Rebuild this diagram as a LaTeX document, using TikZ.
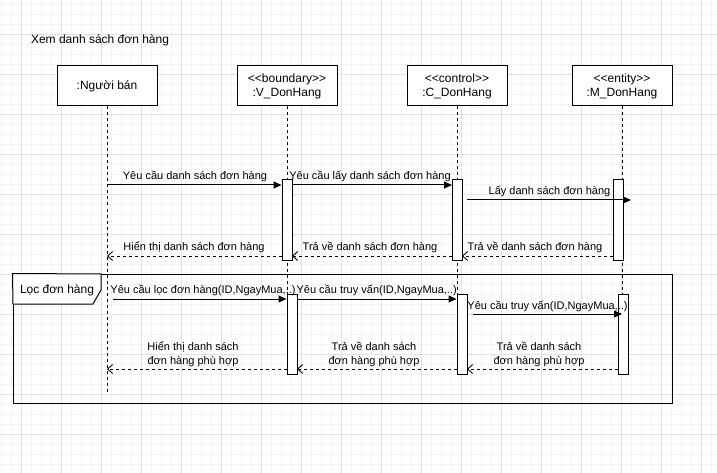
\documentclass[tikz,border=0pt]{standalone}
\usepackage{fontspec}
\setmainfont{Liberation Sans}
\usetikzlibrary{arrows.meta}
\definecolor{gmaj}{RGB}{226,226,226}
\definecolor{gmin}{RGB}{244,244,244}
\newcommand{\stereo}[1]{<\kern0pt<#1>\kern0pt>}
\begin{document}
\begin{tikzpicture}[x=1pt,y=-1pt,
  lbl/.style={font=\fontsize{11}{13.6}\selectfont, inner sep=0pt, align=center, anchor=base},
  big/.style={font=\fontsize{12}{14}\selectfont, inner sep=0pt, anchor=base},
  hdr/.style={draw, fill=white, minimum width=100pt, minimum height=40pt, inner sep=0pt, align=center, font=\fontsize{12}{14}\selectfont, line width=1pt},
  act/.style={draw, fill=white, minimum width=10pt, minimum height=80pt, inner sep=0pt, line width=1pt},
  life/.style={dash pattern=on 3pt off 3pt, line width=0.9pt},
  msg/.style={-{Triangle[length=8pt,width=7pt]}, line width=1pt},
  ret/.style={dash pattern=on 3pt off 3pt, -{Straight Barb[length=5pt,width=9pt,line width=0.9pt]}, line width=0.9pt}]
\useasboundingbox (0,0) rectangle (717,473);
% background grid
\begin{scope}
\clip (0,0) rectangle (717,473);
\draw[gmin, line width=0.8pt, step=10pt, shift={(1.7,4)}] (-20,500) grid (740,-20);
\draw[gmaj, line width=0.9pt, step=40pt, shift={(21.7,34)}] (-60,520) grid (760,-60);
\end{scope}

% title
\node[big] (title) at (100,43.5) {Xem danh sách đơn hàng};

% frame
\node[draw, line width=1pt, minimum width=659pt, minimum height=129pt, inner sep=0pt] (frame) at (342.5,338.5) {};
\draw[fill=white, line width=1pt] (frame.north west) -- (101,274) -- (101,290) -- (93,304) -- (13,304) -- cycle;
\node[big] (framelbl) at (57,293.3) {Lọc đơn hàng};

% headers
\node[hdr] (hN) at (107,86) {:Người bán};
\node[hdr] (hV) at (287,86) {\stereo{boundary}\\:V\_DonHang};
\node[hdr] (hC) at (457,86) {\stereo{control}\\:C\_DonHang};
\node[hdr] (hM) at (622,86) {\stereo{entity}\\:M\_DonHang};

% lifelines
\coordinate (eN) at (107,392);
\coordinate (eV) at (287,374);
\coordinate (eC) at (457,374);
\coordinate (eM) at (622,374);
\draw[life] (hN.south) -- (eN);
\draw[life] (hV.south) -- (eV);
\draw[life] (hC.south) -- (eC);
\draw[life] (hM.south) -- (eM);

% activations
\node[act] (aV1) at (287,220) {};
\node[act] (aC1) at (457.5,220) {};
\node[act] (aM1) at (618,220) {};
\node[act] (aV2) at (292,334) {};
\node[act] (aC2) at (462,334) {};
\node[act] (aM2) at (623,334) {};

% row 1 messages
\coordinate (m1s) at (107,185);
\draw[msg] (m1s) -- (aV1.west |- m1s);
\node[lbl] (l1) at (195,180) {Yêu cầu danh sách đơn hàng};

\coordinate (m2s) at (292,185);
\draw[msg] (m2s) -- (aC1.west |- m2s);
\node[lbl] (l2) at (370,180) {Yêu cầu lấy danh sách đơn hàng};

\coordinate (m3s) at (467,200);
\coordinate (m3e) at (631,200);
\draw[msg] (m3s) -- (m3e);
\node[lbl] (l3) at (549.5,195) {Lấy danh sách đơn hàng};

\coordinate (r1e) at (107,256);
\draw[ret] (aV1.west |- r1e) -- (r1e);
\node[lbl] (l4) at (194,250) {Hiển thị danh sách đơn hàng};

\coordinate (r2e) at (292,256);
\draw[ret] (aC1.west |- r2e) -- (r2e);
\node[lbl] (l5) at (370,250) {Trả về danh sách đơn hàng};

\coordinate (r3e) at (462,256);
\draw[ret] (aM1.west |- r3e) -- (r3e);
\node[lbl] (l6) at (535,250) {Trả về danh sách đơn hàng};

% row 2 messages
\coordinate (m4s) at (113,299);
\draw[msg] (m4s) -- (aV2.west |- m4s);
\node[lbl] (l7) at (203,293.5) {Yêu cầu lọc đơn hàng(ID,NgayMua,..)};

\coordinate (m5s) at (297,299);
\draw[msg] (m5s) -- (aC2.west |- m5s);
\node[lbl] (l8) at (376.7,293.5) {Yêu cầu truy vấn(ID,NgayMua,..)};

\coordinate (m6s) at (473,314);
\coordinate (m6e) at (622,314);
\draw[msg] (m6s) -- (m6e);
\node[lbl] (l9) at (547.5,309.3) {Yêu cầu truy vấn(ID,NgayMua,..)};

\coordinate (r4e) at (107,369);
\draw[ret] (aV2.west |- r4e) -- (r4e);
\node[lbl] (l10) at (193,364.3) {Hiển thị danh sách\\đơn hàng phù hợp};

\coordinate (r5e) at (297,369);
\draw[ret] (aC2.west |- r5e) -- (r5e);
\node[lbl] (l11) at (374,364.3) {Trả về danh sách\\đơn hàng phù hợp};

\coordinate (r6e) at (467,369);
\draw[ret] (aM2.west |- r6e) -- (r6e);
\node[lbl] (l12) at (539,364.3) {Trả về danh sách\\đơn hàng phù hợp};
\end{tikzpicture}
\end{document}
